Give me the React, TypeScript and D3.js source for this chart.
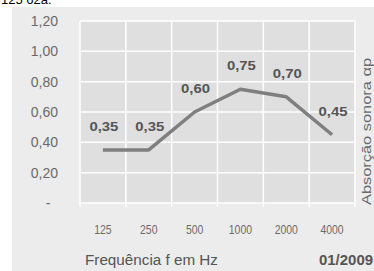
import React from "react";
import * as d3 from "d3";

const categories = ["125", "250", "500", "1000", "2000", "4000"];
const values = [0.35, 0.35, 0.6, 0.75, 0.7, 0.45];
const valueLabels = ["0,35", "0,35", "0,60", "0,75", "0,70", "0,45"];
const yTicks = [0, 0.2, 0.4, 0.6, 0.8, 1.0, 1.2];
const yTickLabels = ["-", "0,20", "0,40", "0,60", "0,80", "1,00", "1,20"];
const xTitle = "Frequência f em Hz";
const yTitle = "Absorção sonora αp";
const dateLabel = "01/2009";
const topText = "125 62a.";

export default function App() {
  const W = 374, H = 271;
  const left = 80, right = 355, top = 21, bottom = 203;
  const x = d3.scaleBand<string>().domain(categories).range([left, right]).padding(0);
  const y = d3.scaleLinear().domain([0, 1.2]).range([bottom, top]);
  const cx = (c: string) => (x(c) as number) + x.bandwidth() / 2;
  const line = d3.line<number>().x((_, i) => cx(categories[i])).y((v) => y(v));
  const font = "'Liberation Sans', Arial, sans-serif";
  return (
    <svg width={W} height={H} style={{ position: "absolute", left: 0, top: 0 }}>
      <rect x={0} y={0} width={W} height={H} fill="#ffffff" />
      <text x={1} y={4} fontFamily={font} fontSize={13} fill="#000">{topText}</text>
      <rect x={12} y={7} width={W - 12} height={H - 7} fill="#ececec" />
      <rect x={left} y={top} width={right - left} height={bottom - top} fill="#dfdfdf" />
      {yTicks.map((t) => (
        <line key={"h" + t} x1={left} x2={right} y1={y(t)} y2={y(t)} stroke="#ffffff" strokeWidth={1.5} />
      ))}
      {categories.map((c) => (
        <line key={"v" + c} x1={x(c) as number} x2={x(c) as number} y1={top} y2={bottom + 4} stroke="#ffffff" strokeWidth={1.5} />
      ))}
      <line x1={right} x2={right} y1={top} y2={bottom + 4} stroke="#ffffff" strokeWidth={1.5} />
      {yTicks.map((t, i) => (
        <text key={"yl" + t} x={t === 0 ? 48 : 58} y={y(t)} dy="0.36em" textAnchor={t === 0 ? "middle" : "end"}
          fontFamily={font} fontSize={14} fill="#6a6a6a">{yTickLabels[i]}</text>
      ))}
      {categories.map((c) => (
        <text key={"xl" + c} x={cx(c)} y={229} dy="0.36em" textAnchor="middle" fontFamily={font} fontSize={13.5}
          fill="#6a6a6a" textLength={c.length * 5.8} lengthAdjust="spacingAndGlyphs">{c}</text>
      ))}
      <path d={line(values) || ""} fill="none" stroke="#7f7f7f" strokeWidth={3.5} strokeLinejoin="round" />
      {values.map((v, i) => (
        <text key={"vl" + i} x={cx(categories[i]) + 1} y={y(v) - 19} textAnchor="middle" fontFamily={font}
          fontSize={13} fontWeight="bold" fill="#555" textLength={29} lengthAdjust="spacingAndGlyphs">{valueLabels[i]}</text>
      ))}
      <text x={85} y={265} fontFamily={font} fontSize={14} fill="#555" textLength={133} lengthAdjust="spacingAndGlyphs">{xTitle}</text>
      <text x={373} y={265} textAnchor="end" fontFamily={font} fontSize={14} fontWeight="bold" fill="#555"
        textLength={54} lengthAdjust="spacingAndGlyphs">{dateLabel}</text>
      <text transform={`translate(370.5,131.5) rotate(-90)`} textAnchor="middle"
        fontFamily={font} fontSize={12.5} fill="#6a6a6a" textLength={147} lengthAdjust="spacingAndGlyphs">{yTitle}</text>
    </svg>
  );
}
